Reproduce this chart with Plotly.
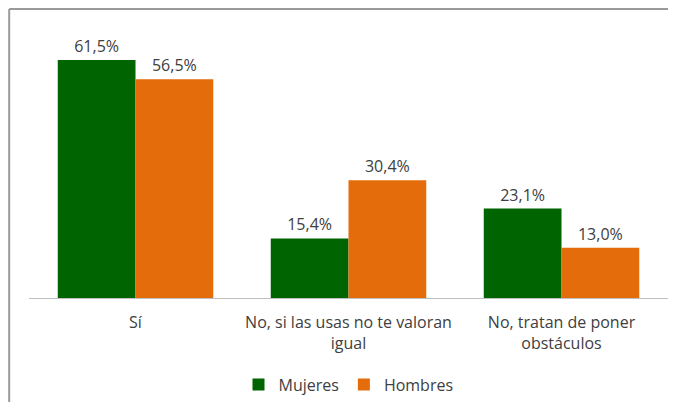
import plotly.graph_objects as go

categories = ["Sí", "No, si las usas no te valoran<br>igual", "No, tratan de poner<br>obstáculos"]
mujeres = [61.5, 15.4, 23.1]
hombres = [56.5, 30.4, 13.0]


def pct(vals):
    return [f"{v:.1f}%".replace(".", ",") for v in vals]


fig = go.Figure()
fig.add_trace(go.Bar(x=categories, y=mujeres, name="Mujeres", marker_color="#006400",
                     text=pct(mujeres), textposition="outside", cliponaxis=False))
fig.add_trace(go.Bar(x=categories, y=hombres, name="Hombres", marker_color="#E46C0A",
                     text=pct(hombres), textposition="outside", cliponaxis=False))

fig.update_traces(marker_line_width=0, textfont=dict(size=16, color="#404040"))

# page body has an 8px margin, so the figure is sized to fit inside the window without scrollbars
fig.update_layout(
    width=660, height=394,
    margin=dict(l=21, r=0, t=19, b=104, autoexpand=False),
    paper_bgcolor="white", plot_bgcolor="white",
    font=dict(family="Open Sans, Liberation Sans, sans-serif", size=16, color="#404040"),
    barmode="group", bargap=0.27, bargroupgap=0,
    xaxis=dict(showline=True, linecolor="#BFBFBF", linewidth=1, ticks="",
               ticklabelstandoff=10, tickfont=dict(size=16, color="#404040")),
    yaxis=dict(range=[0, 70], visible=False),
    legend=dict(orientation="h", x=0.5, xanchor="center", y=-0.32, yanchor="middle",
                font=dict(size=16, color="#404040"), itemwidth=30),
    showlegend=True,
    # chart-area border: top and left edges only
    shapes=[
        dict(type="line", xref="paper", yref="paper", x0=-0.031, x1=1.0,
             y0=1.066, y1=1.066, line=dict(color="#9A9A9A", width=2)),
        dict(type="line", xref="paper", yref="paper", x0=-0.031, x1=-0.031,
             y0=1.066, y1=-0.384, line=dict(color="#9A9A9A", width=2)),
    ],
)

fig.write_html("out.html")
